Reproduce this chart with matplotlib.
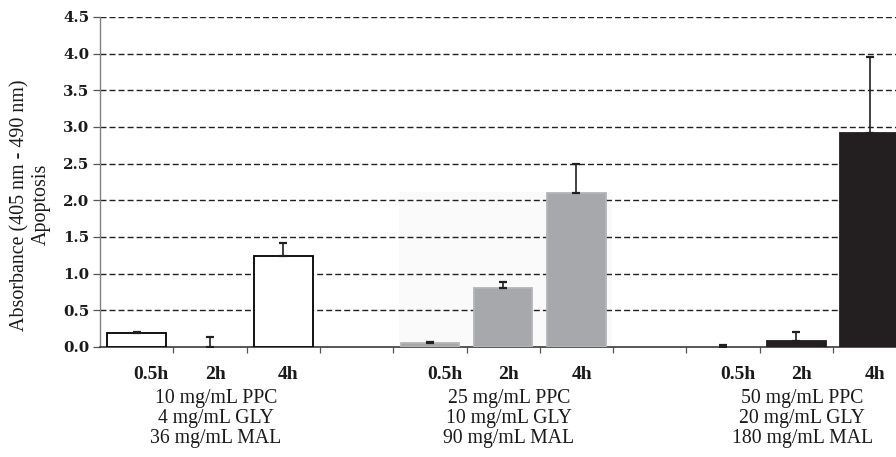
import matplotlib
matplotlib.use("Agg")
import matplotlib.pyplot as plt
from matplotlib.transforms import blended_transform_factory
from matplotlib.patches import Rectangle

# Apoptosis absorbance at three sampling times for three formulations
times = ["0.5h", "2h", "4h"]
group_labels = [
    ["10 mg/mL PPC", "4 mg/mL GLY", "36 mg/mL MAL"],
    ["25 mg/mL PPC", "10 mg/mL GLY", "90 mg/mL MAL"],
    ["50 mg/mL PPC", "20 mg/mL GLY", "180 mg/mL MAL"],
]
low_values = [0.19, 0.0, 1.24]
low_errors = [0.01, 0.13, 0.18]
mid_values = [0.05, 0.81, 2.10]
mid_errors = [0.02, 0.08, 0.40]
high_values = [0.0, 0.08, 2.92]
high_errors = [0.03, 0.13, 1.04]
y_ticks = [0.0, 0.5, 1.0, 1.5, 2.0, 2.5, 3.0, 3.5, 4.0, 4.5]

values = [low_values, mid_values, high_values]
errors = [low_errors, mid_errors, high_errors]
faces = ["white", "#a6a8ab", "#231f20"]
edges = ["black", "#b4b5b7", "#231f20"]

W, H = 896, 457
fig = plt.figure(figsize=(W / 100, H / 100), dpi=100)
ax = fig.add_axes([100 / W, 1 - 347 / H, 806.3 / W, 330 / H])

serif = ["Liberation Serif", "DejaVu Serif"]
ink = "#1a1a1a"

# faint backdrop behind the middle formulation
ax.add_patch(Rectangle((3.58, 0), 2.9, 2.12, facecolor="#fafafa",
                       edgecolor="none", zorder=0))

for g in range(3):
    xs = [4 * g + i for i in range(3)]
    bars = ax.bar(xs, values[g], width=0.8, color=faces[g],
                  edgecolor=edges[g], linewidth=1.3, zorder=3)
    for patch, v in zip(bars, values[g]):
        if v == 0:
            patch.set_linewidth(0)
    ax.errorbar(xs, values[g], yerr=[[0] * 3, errors[g]], fmt="none",
                ecolor="#231f20", elinewidth=1.2, capsize=2.6, capthick=1.6,
                zorder=4)

# dashed horizontal grid
for t in y_ticks[1:]:
    ax.axhline(t, color="#231f20", linewidth=1.0, dashes=(4.3, 2.2), zorder=1)

ax.set_xlim(-0.5, 10.5)
ax.set_ylim(0, 4.5)
ax.set_yticks(y_ticks)
ax.set_yticklabels([f"{t:.1f}" for t in y_ticks])
for lab in ax.get_yticklabels():
    lab.set_fontfamily("DejaVu Serif")
    lab.set_fontweight("bold")
    lab.set_fontsize(10.8)
    lab.set_color(ink)
ax.tick_params(axis="y", direction="out", length=5, width=0.9,
               color="#555555", pad=2.5)

ax.set_xticks([i + 0.5 for i in range(10)])
ax.set_xticklabels([])
ax.tick_params(axis="x", direction="out", length=4, width=0.9,
               color="#555555")

for side in ("top", "right"):
    ax.spines[side].set_visible(False)
ax.spines["left"].set_color("#808080")
ax.spines["left"].set_linewidth(1.0)
ax.spines["bottom"].set_color("#3a3a3a")
ax.spines["bottom"].set_linewidth(1.2)

# category and formulation labels beneath the axis
tr = blended_transform_factory(ax.transData, fig.transFigure)
time_offsets = [0.2, 0.07, 0.07]
line_base = [403, 423, 443]
for g in range(3):
    for i, t in enumerate(times):
        ax.text(4 * g + i + time_offsets[i], 1 - 379 / H, t, transform=tr,
                ha="center", va="baseline", fontsize=14, fontweight="bold",
                family=serif, color=ink)
    for j, line in enumerate(group_labels[g]):
        ax.text(4 * g + 1.08, 1 - line_base[j] / H, line, transform=tr,
                ha="center", va="baseline", fontsize=14.2, family=serif,
                color=ink)

fig.text(20 / W, 1 - 205 / H, "Absorbance (405 nm - 490 nm)", rotation=90,
         ha="center", va="center", fontsize=14.4, family=serif, color=ink)
fig.text(41 / W, 1 - 204 / H, "Apoptosis", rotation=90, ha="center",
         va="center", fontsize=14.4, family=serif, color=ink)

fig.savefig("out.png", dpi=100)
